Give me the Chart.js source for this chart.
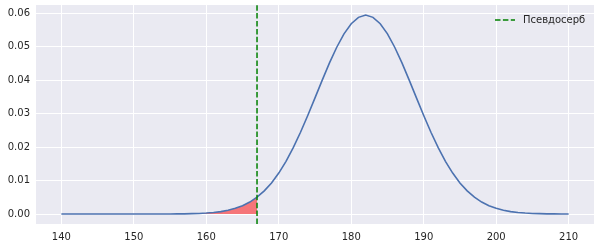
<!DOCTYPE html>
<html>
<head>
<meta charset="utf-8">
<script src="https://cdn.jsdelivr.net/npm/chart.js@4/dist/chart.umd.min.js"></script>
<style>
  html, body { margin: 0; padding: 0; background: #ffffff; }
  #wrap { width: 601px; height: 248px; }
</style>
</head>
<body>
<div id="wrap"><canvas id="myChart" width="601" height="248"></canvas></div>
<script>
// heights (x) and the density
var heights = [140, 141, 142, 143, 144, 145, 146, 147, 148, 149,
  150, 151, 152, 153, 154, 155, 156, 157, 158, 159,
  160, 161, 162, 163, 164, 165, 166, 167, 168, 169,
  170, 171, 172, 173, 174, 175, 176, 177, 178, 179,
  180, 181, 182, 183, 184, 185, 186, 187, 188, 189,
  190, 191, 192, 193, 194, 195, 196, 197, 198, 199,
  200, 201, 202, 203, 204, 205, 206, 207, 208, 209, 210];
var density = [0, 0, 0, 0, 0, 0, 0, 0, 0, 0,
  0, 0, 0, 0, 0.00001, 0.00002, 0.00004, 0.00006, 0.00011, 0.00018,
  0.00029, 0.00047, 0.00073, 0.00114, 0.00170, 0.00249, 0.00358, 0.00503, 0.00692, 0.00930,
  0.01224, 0.01575, 0.01984, 0.02444, 0.02945, 0.03472, 0.04004, 0.04518, 0.04987, 0.05386,
  0.05689, 0.05881, 0.05950, 0.05881, 0.05689, 0.05386, 0.04987, 0.04518, 0.04004, 0.03472,
  0.02945, 0.02444, 0.01984, 0.01575, 0.01224, 0.00930, 0.00692, 0.00503, 0.00358, 0.00249,
  0.00170, 0.00114, 0.00073, 0.00047, 0.00029, 0.00018, 0.00011, 0.00006, 0.00004, 0.00002, 0.00001];

var cutoff = 167;
var cutoffLabel = "Псевдосерб";

var xTicks = [140, 150, 160, 170, 180, 190, 200, 210];
var yTicks = [0, 0.01, 0.02, 0.03, 0.04, 0.05, 0.06];

var xMin = 136.5, xMax = 213.5;
var yMin = -0.00298, yMax = 0.0625;

var textColor = "#262626";
var fontSpec = { family: "DejaVu Sans", size: 10 };

var curvePoints = [];
var tailPoints = [];
heights.forEach(function (h, i) {
  curvePoints.push({ x: h, y: density[i] });
  if (h <= cutoff) tailPoints.push({ x: h, y: density[i] });
});

// legend drawn inside the plot, like matplotlib's upper right
var innerLegend = {
  id: "innerLegend",
  afterDraw: function (chart) {
    var ctx = chart.ctx;
    var area = chart.chartArea;
    var x0 = area.right - 99;
    var y0 = area.top + 15;
    ctx.save();
    ctx.strokeStyle = "#008000";
    ctx.lineWidth = 1.5;
    ctx.setLineDash([5.5, 2.4]);
    ctx.beginPath();
    ctx.moveTo(x0, y0);
    ctx.lineTo(x0 + 20, y0);
    ctx.stroke();
    ctx.setLineDash([]);
    ctx.fillStyle = textColor;
    ctx.font = "10px 'DejaVu Sans'";
    ctx.textBaseline = "middle";
    ctx.textAlign = "left";
    ctx.fillText(cutoffLabel, x0 + 28, y0);
    ctx.restore();
  }
};

var plotBackground = {
  id: "plotBackground",
  beforeDraw: function (chart) {
    var ctx = chart.ctx;
    var area = chart.chartArea;
    ctx.save();
    ctx.fillStyle = "#EAEAF2";
    ctx.fillRect(area.left, area.top, area.right - area.left, area.bottom - area.top);
    ctx.restore();
  }
};

var ctx = document.getElementById("myChart");

var myChart = new Chart(ctx, {
  type: "line",
  data: {
    datasets: [
      {
        label: "tail",
        data: tailPoints,
        borderWidth: 0,
        pointRadius: 0,
        backgroundColor: "rgba(255, 0, 0, 0.5)",
        fill: "origin",
        order: 3,
      },
      {
        label: "density",
        data: curvePoints,
        borderColor: "#4C72B0",
        borderWidth: 1.6,
        pointRadius: 0,
        fill: false,
        order: 2,
      },
      {
        label: cutoffLabel,
        data: [{ x: cutoff, y: yMin }, { x: cutoff, y: yMax }],
        borderColor: "#008000",
        borderWidth: 1.5,
        borderDash: [5.5, 2.4],
        pointRadius: 0,
        fill: false,
        order: 1,
      },
    ],
  },
  options: {
    responsive: false,
    animation: false,
    layout: { padding: { top: 5, right: 7, left: 0, bottom: 0 } },
    plugins: {
      legend: { display: false },
      tooltip: { enabled: false },
    },
    scales: {
      x: {
        type: "linear",
        min: xMin,
        max: xMax,
        border: { display: false },
        grid: { color: "#ffffff", lineWidth: 1, drawTicks: false },
        ticks: {
          color: textColor,
          font: fontSpec,
          padding: 7,
          maxRotation: 0,
          callback: function (v) { return String(v); },
        },
        afterBuildTicks: function (axis) {
          axis.ticks = xTicks.map(function (v) { return { value: v }; });
        },
        afterFit: function (axis) {
          axis.height = 24;
          axis.paddingLeft = 0;
          axis.paddingRight = 0;
        },
      },
      y: {
        type: "linear",
        min: yMin,
        max: yMax,
        border: { display: false },
        grid: { color: "#ffffff", lineWidth: 1, drawTicks: false },
        ticks: {
          color: textColor,
          font: fontSpec,
          padding: 6,
          callback: function (v) { return v.toFixed(2); },
        },
        afterBuildTicks: function (axis) {
          axis.ticks = yTicks.map(function (v) { return { value: v }; });
        },
        afterFit: function (axis) {
          axis.width = 36;
          axis.paddingTop = 0;
          axis.paddingBottom = 0;
        },
      },
    },
  },
  plugins: [plotBackground, innerLegend],
});
</script>
</body>
</html>
